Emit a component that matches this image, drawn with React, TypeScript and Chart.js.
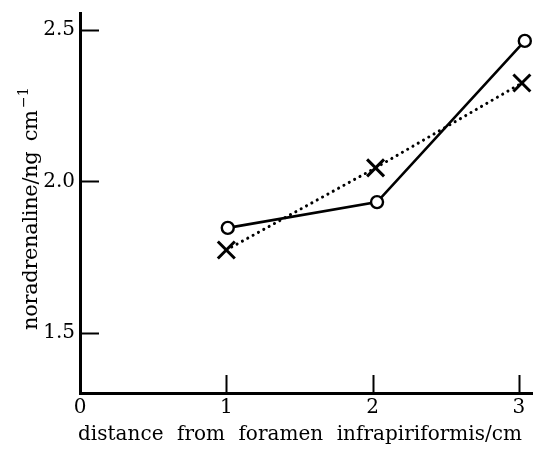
import React, { useEffect, useRef } from "react";
import { Chart, registerables } from "chart.js";

Chart.register(...registerables);

// ---- data ----
const circleX = [1.01, 2.03, 3.04];
const circleY = [1.847, 1.932, 2.464];
const crossX = [1.0, 2.02, 3.02];
const crossY = [1.774, 2.045, 2.325];
const xTickValues = [0, 1, 2, 3];
const yTickValues = [1.5, 2.0, 2.5];
const xTitle = "distance from foramen infrapiriformis/cm";
const yTitleMain = "noradrenaline/ng cm";
const yTitleSup = "\u22121";

const FONT = '"DejaVu Serif", "Liberation Serif", serif';

function drawFitted(ctx: CanvasRenderingContext2D, text: string, left: number, baseline: number, target: number, wordSp: number) {
  (ctx as any).letterSpacing = "0px";
  (ctx as any).wordSpacing = wordSp + "px";
  const w = ctx.measureText(text).width;
  const sp = (target - w) / Math.max(1, text.length - 1);
  (ctx as any).letterSpacing = sp + "px";
  ctx.textAlign = "left";
  ctx.textBaseline = "alphabetic";
  ctx.fillText(text, left, baseline);
  (ctx as any).letterSpacing = "0px";
  (ctx as any).wordSpacing = "0px";
}

const decorPlugin = {
  id: "decor",
  afterDraw(chart: any) {
    const { ctx, chartArea: a, scales } = chart;
    const x = scales.x;
    const y = scales.y;
    ctx.save();
    ctx.strokeStyle = "#000";
    ctx.lineWidth = 2;
    yTickValues.forEach((v) => {
      const py = Math.round(y.getPixelForValue(v)) + 0.5;
      ctx.beginPath();
      ctx.moveTo(a.left, py);
      ctx.lineTo(a.left + 19, py);
      ctx.stroke();
    });
    xTickValues
      .filter((v) => v > 0)
      .forEach((v) => {
        const px = Math.round(x.getPixelForValue(v)) + 0.5;
        ctx.beginPath();
        ctx.moveTo(px, a.bottom);
        ctx.lineTo(px, a.bottom - 18);
        ctx.stroke();
      });
    ctx.fillStyle = "#000";
    ctx.font = "20px " + FONT;
    drawFitted(ctx, xTitle, 78, 440, 444, 7);
    // y title, rotated
    ctx.translate(37, 330);
    ctx.rotate(-Math.PI / 2);
    ctx.font = "21px " + FONT;
    drawFitted(ctx, yTitleMain, 0, 0, 220, 4);
    ctx.font = "14px " + FONT;
    ctx.textAlign = "left";
    ctx.fillText(yTitleSup, 222, -9);
    ctx.restore();
  },
};

export default function App() {
  const ref = useRef<HTMLCanvasElement | null>(null);
  useEffect(() => {
    document.body.style.margin = "0";
    const canvas = ref.current!;
    const chart = new Chart(canvas, {
      type: "line",
      data: {
        datasets: [
          {
            label: "circles",
            data: circleX.map((v, i) => ({ x: v, y: circleY[i] })),
            borderColor: "#000",
            borderWidth: 2.6,
            pointStyle: "circle",
            pointRadius: 6,
            pointBorderWidth: 2.4,
            pointBackgroundColor: "#fff",
            pointBorderColor: "#000",
            tension: 0,
            clip: false as any,
          },
          {
            label: "crosses",
            data: crossX.map((v, i) => ({ x: v, y: crossY[i] })),
            borderColor: "#000",
            borderWidth: 3,
            borderDash: [0.1, 6],
            borderCapStyle: "round",
            pointStyle: "crossRot",
            pointRadius: 12,
            pointBorderWidth: 3,
            pointBorderColor: "#000",
            tension: 0,
            clip: false as any,
          },
        ],
      },
      options: {
        responsive: false,
        animation: false,
        devicePixelRatio: 1,
        layout: { autoPadding: false, padding: { top: 13, right: 0, left: 0, bottom: 0 } },
        plugins: { legend: { display: false }, tooltip: { enabled: false } },
        scales: {
          x: {
            type: "linear",
            min: 0,
            max: 3.096,
            afterFit: (s: any) => {
              s.height = 60;
              s.paddingLeft = 0;
              s.paddingRight = 0;
            },
            afterBuildTicks: (s: any) => {
              s.ticks = xTickValues.map((v) => ({ value: v }));
            },
            grid: { display: false, drawTicks: false },
            border: { display: true, color: "#000", width: 3 },
            ticks: {
              color: "#000",
              padding: 3,
              font: { family: FONT, size: 20 },
              callback: (v: any) => String(v),
              maxRotation: 0,
              autoSkip: false,
            },
          },
          y: {
            type: "linear",
            min: 1.302,
            max: 2.556,
            afterFit: (s: any) => {
              s.width = 80;
              s.paddingTop = 0;
              s.paddingBottom = 0;
            },
            afterBuildTicks: (s: any) => {
              s.ticks = yTickValues.map((v) => ({ value: v }));
            },
            grid: { display: false, drawTicks: false },
            border: { display: true, color: "#000", width: 3 },
            ticks: {
              color: "#000",
              padding: 5,
              font: { family: FONT, size: 20 },
              callback: (v: any) => Number(v).toFixed(1),
              autoSkip: false,
            },
          },
        },
      },
      plugins: [decorPlugin],
    });
    return () => chart.destroy();
  }, []);
  return (
    <div style={{ width: 533, height: 453, background: "#fff" }}>
      <canvas ref={ref} width={533} height={453} style={{ display: "block" }} />
    </div>
  );
}
